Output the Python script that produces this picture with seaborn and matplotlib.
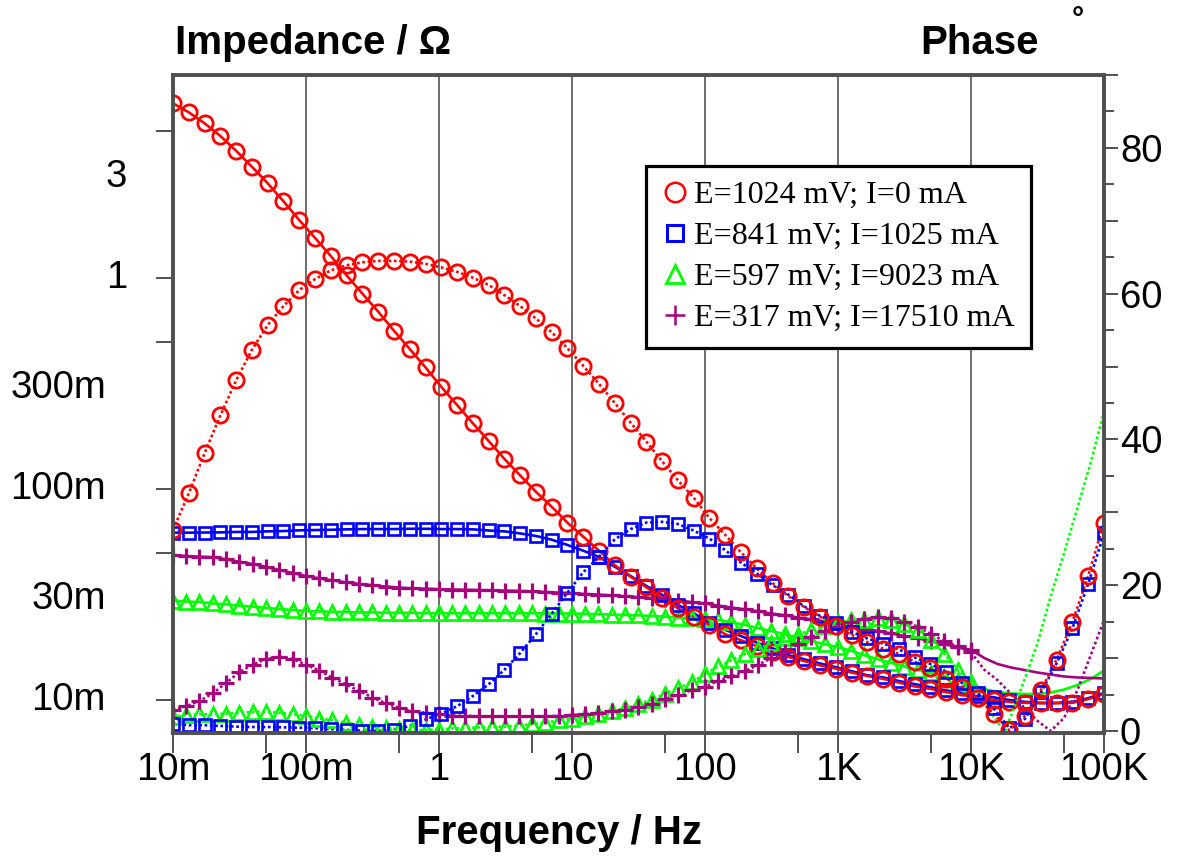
import matplotlib
matplotlib.use("Agg")
import matplotlib.pyplot as plt
import matplotlib.transforms as mtransforms
import seaborn as sns
from matplotlib.lines import Line2D
from matplotlib.ticker import FixedLocator, FixedFormatter, NullFormatter

sns.set_theme(style="white")
plt.rcParams['font.family'] = ['Liberation Sans', 'DejaVu Sans']
plt.rcParams['text.color'] = 'black'
plt.rcParams['xtick.color'] = 'black'
plt.rcParams['ytick.color'] = 'black'
plt.rcParams['axes.labelcolor'] = 'black'

# ---------------- data ----------------
# sweep of the two first measurements (red / blue)
freq_rb = [0.01, 0.01314, 0.01727, 0.0227, 0.02983, 0.0392, 0.05152, 0.06771, 0.08898, 0.1169,
           0.1537, 0.2019, 0.2654, 0.3488, 0.4584, 0.6024, 0.7917, 1.040, 1.367, 1.796,
           2.361, 3.102, 4.077, 5.358, 7.041, 9.250, 12.16, 15.98, 21.00, 27.59,
           36.26, 47.65, 62.62, 82.29, 108.1, 142.1, 186.7, 245.4, 322.5, 423.8,
           556.9, 731.8, 961.7, 1264, 1661, 2183, 2868, 3770, 4954, 6510,
           8555, 11240, 14770, 19420, 25510, 33530, 44060, 57900, 76090, 100000]
# sweep of the two other measurements (green / purple)
freq_gp = [0.01, 0.0126, 0.0158, 0.02, 0.0251, 0.0316, 0.0398, 0.0501, 0.0631, 0.0794,
           0.1, 0.126, 0.158, 0.2, 0.251, 0.316, 0.398, 0.501, 0.631, 0.794,
           1, 1.26, 1.58, 2, 2.51, 3.16, 3.98, 5.01, 6.31, 7.94,
           10, 12.6, 15.8, 20, 25.1, 31.6, 39.8, 50.1, 63.1, 79.4,
           100, 126, 158, 200, 251, 316, 398, 501, 631, 794,
           1000, 1260, 1580, 2000, 2510, 3160, 3980, 5010, 6310, 7940, 10000]

red_z = [6.73, 6.10, 5.41, 4.71, 4.01, 3.37, 2.81, 2.31, 1.88, 1.55,
         1.27, 1.03, 0.843, 0.693, 0.563, 0.461, 0.377, 0.305, 0.250, 0.205,
         0.169, 0.139, 0.116, 0.097, 0.0824, 0.0692, 0.0594, 0.0510, 0.0435, 0.0384,
         0.0342, 0.0305, 0.0272, 0.0248, 0.0227, 0.0205, 0.0192, 0.0180, 0.0169, 0.0160,
         0.0153, 0.0146, 0.0141, 0.0135, 0.0130, 0.0126, 0.0121, 0.0116, 0.0113, 0.0109,
         0.0106, 0.0102, 0.0100, 0.0098, 0.0097, 0.00965, 0.00965, 0.0097, 0.0101, 0.0107]
red_phase = [27.6, 32.6, 38.1, 43.3, 48.1, 52.3, 55.7, 58.3, 60.5, 62.0,
             63.2, 63.9, 64.3, 64.5, 64.5, 64.4, 64.1, 63.6, 63.0, 62.2,
             61.2, 59.8, 58.3, 56.6, 54.7, 52.5, 50.1, 47.6, 45.0, 42.3,
             39.7, 37.0, 34.4, 32.0, 29.2, 26.9, 24.5, 22.3, 20.3, 18.5,
             17.0, 15.7, 14.4, 13.2, 12.2, 11.3, 10.6, 9.5, 8.6, 7.2,
             6.1, 4.5, 2.4, 0.1, 2.1, 5.6, 9.8, 15.0, 21.3, 28.6]

blue_z = [0.0621, 0.0621, 0.0622, 0.0623, 0.0626, 0.0626, 0.0630, 0.0632, 0.0637, 0.0639,
          0.0641, 0.0644, 0.0646, 0.0646, 0.0646, 0.0648, 0.0648, 0.0646, 0.0646, 0.0644,
          0.0636, 0.0630, 0.0616, 0.0599, 0.0575, 0.0543, 0.0510, 0.0476, 0.0428, 0.0387,
          0.0347, 0.0315, 0.0282, 0.0258, 0.0232, 0.0215, 0.0201, 0.0187, 0.0176, 0.0163,
          0.0156, 0.0149, 0.0143, 0.0137, 0.0131, 0.0128, 0.0123, 0.0119, 0.0115, 0.0111,
          0.0108, 0.0104, 0.0103, 0.0100, 0.0098, 0.0097, 0.0097, 0.0098, 0.0102, 0.0108]
blue_phase = [1.0, 0.8, 0.8, 0.7, 0.6, 0.55, 0.55, 0.5, 0.45, 0.4,
              0.25, 0.15, 0.05, 0.0, 0.15, 0.7, 1.6, 2.4, 3.4, 4.8,
              6.4, 8.4, 10.7, 13.3, 16.1, 19.0, 21.8, 23.9, 26.3, 27.7,
              28.6, 28.7, 28.4, 27.5, 26.4, 24.8, 23.1, 21.6, 20.0, 18.7,
              17.1, 15.8, 14.8, 13.6, 12.7, 12.0, 11.2, 10.1, 9.2, 8.1,
              6.6, 5.2, 3.1, 0.4, 1.7, 5.3, 9.3, 14.1, 20.2, 27.1]

green_z = [0.0295, 0.0293, 0.0291, 0.0287, 0.0284, 0.0280, 0.0277, 0.0273, 0.0270, 0.0267,
           0.0264, 0.0263, 0.0262, 0.0261, 0.0260, 0.0260, 0.0259, 0.0259, 0.0259, 0.0258,
           0.0258, 0.0258, 0.0258, 0.0258, 0.0258, 0.0258, 0.0258, 0.0258, 0.0257, 0.0257,
           0.0257, 0.0256, 0.0255, 0.0254, 0.0253, 0.0252, 0.0250, 0.0248, 0.0246, 0.0244,
           0.0242, 0.0239, 0.0234, 0.0227, 0.0219, 0.0212, 0.0205, 0.0197, 0.0190, 0.0184,
           0.0178, 0.0171, 0.0163, 0.0156, 0.0150, 0.0144, 0.0139, 0.0134, 0.0129, 0.0124, 0.0119]
green_phase = [1.9, 2.2, 2.3, 2.3, 2.4, 2.5, 2.6, 2.65, 2.5, 2.3,
               2.1, 1.7, 1.5, 1.15, 0.8, 0.6, 0.4, 0.25, 0.15, 0.15,
               0.2, 0.35, 0.4, 0.5, 0.55, 0.6, 0.75, 0.95, 1.15, 1.45,
               1.7, 2.0, 2.3, 2.75, 3.1, 3.7, 4.3, 5.1, 5.9, 6.7,
               7.8, 8.9, 9.7, 10.6, 11.2, 12.1, 12.8, 13.2, 13.9, 14.4,
               14.9, 15.2, 15.3, 15.5, 15.2, 14.7, 13.9, 12.5, 10.6, 8.4, 6.7]

purple_z = [0.0487, 0.0481, 0.0478, 0.0475, 0.0464, 0.0452, 0.0441, 0.0428, 0.0413, 0.0400,
            0.0387, 0.0377, 0.0369, 0.0361, 0.0355, 0.0350, 0.0345, 0.0341, 0.0338, 0.0337,
            0.0335, 0.0334, 0.0333, 0.0332, 0.0331, 0.0330, 0.0329, 0.0327, 0.0325, 0.0323,
            0.0320, 0.0318, 0.0316, 0.0313, 0.0310, 0.0307, 0.0304, 0.0300, 0.0296, 0.0291,
            0.0287, 0.0280, 0.0274, 0.0269, 0.0263, 0.0257, 0.0252, 0.0246, 0.0241, 0.0236,
            0.0231, 0.0224, 0.0218, 0.0212, 0.0207, 0.0201, 0.0196, 0.0190, 0.0184, 0.0178, 0.0173]
purple_phase = [2.9, 3.4, 4.1, 5.2, 6.6, 8.1, 9.1, 9.9, 10.2, 9.9,
                9.1, 8.3, 7.3, 6.4, 5.5, 4.6, 3.8, 3.2, 2.7, 2.5,
                2.3, 2.1, 2.1, 2.0, 2.0, 2.0, 2.0, 2.0, 2.0, 2.1,
                2.2, 2.3, 2.5, 2.7, 2.9, 3.3, 3.7, 4.4, 5.0, 5.6,
                6.1, 6.9, 7.5, 8.2, 9.1, 10.0, 10.8, 11.9, 12.9, 13.7,
                14.3, 15.0, 15.4, 15.6, 15.5, 15.0, 14.3, 13.3, 12.3, 11.6, 10.8]

# fitted curves continuing above 10 kHz (lines only, no markers)
ext_freq = [12600, 15800, 20000, 25100, 31600, 39800, 50100, 63100, 79400, 100000]
green_z_ext = [0.01127, 0.01091, 0.01074, 0.01068, 0.01068, 0.01085, 0.01121, 0.01178, 0.01258, 0.01380]
purple_z_ext = [0.01581, 0.01482, 0.01426, 0.01388, 0.01350, 0.01321, 0.01293, 0.01279, 0.01272, 0.01265]
purple_phase_ext = [8.4, 7.0, 5.1, 3.2, 1.4, 0.0, 1.8, 5.6, 10.4, 15.2]
green_phase_ext_freq = [12600, 15800, 18000, 20000, 25100, 31600, 39800, 50100, 63100, 79400, 100000]
green_phase_ext = [4.0, 1.2, 0.0, 2.1, 6.9, 12.0, 18.5, 24.4, 30.6, 36.8, 43.8]

labels = ["E=1024 mV; I=0 mA", "E=841 mV; I=1025 mA",
          "E=597 mV; I=9023 mA", "E=317 mV; I=17510 mA"]
x_ticks = [0.01, 0.1, 1, 10, 100, 1000, 10000, 100000]
x_tick_labels = ["10m", "100m", "1", "10", "100", "1K", "10K", "100K"]
x_minor = [0.05, 0.5, 5, 50, 500, 5000, 50000]
z_ticks = [5, 1, 0.5, 0.1, 0.05, 0.01]
z_label_vals = [3, 1, 0.3, 0.1, 0.03, 0.01]
z_label_texts = ["3", "1", "300m", "100m", "30m", "10m"]
phase_ticks = [0, 10, 20, 30, 40, 50, 60, 70, 80, 90]
phase_tick_labels = ["0", "", "20", "", "40", "", "60", "", "80", ""]
phase_minor = [5, 15, 25, 35, 45, 55, 65, 75, 85]

RED, BLUE, GREEN, PURPLE = "#FF0000", "#0000FF", "#00FF00", "#A3057F"

# ---------------- figure ----------------
W, H = 1198, 857
fig = plt.figure(figsize=(W / 100, H / 100), dpi=100)
fig.patch.set_facecolor("white")
L, R, T, B = 173, 1104, 75, 733
ax = fig.add_axes([L / W, 1 - B / H, (R - L) / W, (B - T) / H])
ax.set_xscale("log")
ax.set_yscale("log")
ax.set_xlim(0.01, 100000)
ax.set_ylim(0.006977, 9.166)
ax2 = ax.twinx()
ax2.set_ylim(-0.27, 90)

DOT = (0, (1, 1))
LW = 1.9

def draw(axis, x, y, color, ls, marker=None, ms=10, mew=1.8, line=True, z=2):
    if line:
        sns.lineplot(x=x, y=y, ax=axis, color=color, lw=LW, linestyle=ls,
                     estimator=None, sort=False, legend=False, zorder=z)
    if marker is not None:
        sns.lineplot(x=x, y=y, ax=axis, color=color, linestyle="none",
                     marker=marker, markersize=ms, markerfacecolor="none",
                     markeredgecolor=color, markeredgewidth=mew,
                     estimator=None, sort=False, legend=False, zorder=z + 0.5)

# impedance (solid)
draw(ax, freq_gp + ext_freq, green_z + green_z_ext, GREEN, "-")
draw(ax, freq_gp, green_z, GREEN, "-", marker="^", ms=10.5, mew=1.9, line=False)
draw(ax, freq_gp + ext_freq, purple_z + purple_z_ext, PURPLE, "-")
draw(ax, freq_gp, purple_z, PURPLE, "-", marker="+", ms=11.5, mew=2.3, line=False)
draw(ax, freq_rb, blue_z, BLUE, "-", marker="s", ms=8, mew=1.9)
draw(ax, freq_rb, red_z, RED, "-", marker="o", ms=11, mew=2.0)

# phase (dotted)
draw(ax2, freq_gp + green_phase_ext_freq, green_phase + green_phase_ext, GREEN, DOT)
draw(ax2, freq_gp, green_phase, GREEN, DOT, marker="^", ms=10.5, mew=1.9, line=False)
draw(ax2, freq_gp + ext_freq, purple_phase + purple_phase_ext, PURPLE, DOT)
draw(ax2, freq_gp, purple_phase, PURPLE, DOT, marker="+", ms=11.5, mew=2.3, line=False)
draw(ax2, freq_rb, blue_phase, BLUE, DOT, marker="s", ms=8, mew=1.9)
draw(ax2, freq_rb, red_phase, RED, DOT, marker="o", ms=11, mew=2.0)

ax.set_xlim(0.01, 100000)
ax2.set_ylim(-0.27, 90)
ax.set_ylim(0.006977, 9.166)

# ---------------- axes styling ----------------
for a in (ax, ax2):
    a.set_xlabel("")
    a.set_ylabel("")
    for s in a.spines.values():
        s.set_color("#505050")
        s.set_linewidth(2.6)

ax.xaxis.set_major_locator(FixedLocator(x_ticks))
ax.xaxis.set_major_formatter(FixedFormatter(x_tick_labels))
ax.xaxis.set_minor_locator(FixedLocator(x_minor))
ax.xaxis.set_minor_formatter(NullFormatter())
ax.tick_params(axis="x", which="both", direction="out", length=14.5, width=1.2,
               color="#333333", labelsize=27.5, pad=-1, bottom=True, labelcolor="black")
ax.grid(axis="x", which="major", color="#6e6e6e", lw=1.4)
ax.grid(axis="y", visible=False)

ax.yaxis.set_major_locator(FixedLocator(z_ticks))
ax.yaxis.set_major_formatter(NullFormatter())
ax.yaxis.set_minor_locator(FixedLocator([]))
ax.tick_params(axis="y", which="major", direction="out", length=12, width=1.2,
               color="#333333", left=True)
# left tick labels, placed by hand like the original software does
ylab_tr = mtransforms.blended_transform_factory(fig.transFigure, ax.transData)
for v, t in zip(z_label_vals, z_label_texts):
    xr = 127 if t in ("3", "1") else 106
    ax.text(xr / W, v, t, transform=ylab_tr, ha="right", va="center",
            fontsize=27.5, color="black", clip_on=False)

ax2.yaxis.set_major_locator(FixedLocator(phase_ticks))
ax2.yaxis.set_major_formatter(FixedFormatter(phase_tick_labels))
ax2.yaxis.set_minor_locator(FixedLocator(phase_minor))
ax2.tick_params(axis="y", which="major", direction="out", length=10, width=1.2,
                color="#333333", labelsize=27.5, pad=1.5, right=True, labelcolor="black")
ax2.tick_params(axis="y", which="minor", direction="out", length=7, width=1.2,
                color="#333333", right=True)
ax2.grid(False)

# titles
fig.text(175 / W, 1 - 43 / H, "Impedance / Ω", fontsize=29, fontweight="bold",
         ha="left", va="center", color="black")
fig.text(920 / W, 1 - 43 / H, "Phase", fontsize=29, fontweight="bold",
         ha="left", va="center", color="black")
fig.text(1078 / W, 1 - 20 / H, "°", fontsize=22, fontweight="bold",
         ha="center", va="center", color="black")
fig.text(559.5 / W, 1 - 833 / H, "Frequency / Hz", fontsize=29, fontweight="bold",
         ha="center", va="center", color="black")

# legend
handles = [
    Line2D([], [], ls="none", marker="o", ms=14, mfc="none", mec=RED, mew=1.8),
    Line2D([], [], ls="none", marker="s", ms=11, mfc="none", mec=BLUE, mew=2.2),
    Line2D([], [], ls="none", marker="^", ms=13, mfc="none", mec=GREEN, mew=2.0),
    Line2D([], [], ls="none", marker="+", ms=15, mfc="none", mec=PURPLE, mew=1.8),
]
leg = ax2.legend(handles, labels, loc="upper left", mode="expand",
                 bbox_to_anchor=(646 / W, 1 - 339 / H, (1031 - 646) / W, (339 - 166) / H),
                 bbox_transform=fig.transFigure,
                 prop={"family": "Liberation Serif", "size": 23},
                 frameon=True, fancybox=False, framealpha=1, edgecolor="black",
                 borderpad=0.45, labelspacing=0.37, handlelength=0.9,
                 handletextpad=0.15, borderaxespad=0)
leg.get_frame().set_linewidth(2.3)
for txt in leg.get_texts():
    txt.set_color("black")
leg.set_zorder(10)

fig.savefig("out.png", dpi=100, facecolor="white")
